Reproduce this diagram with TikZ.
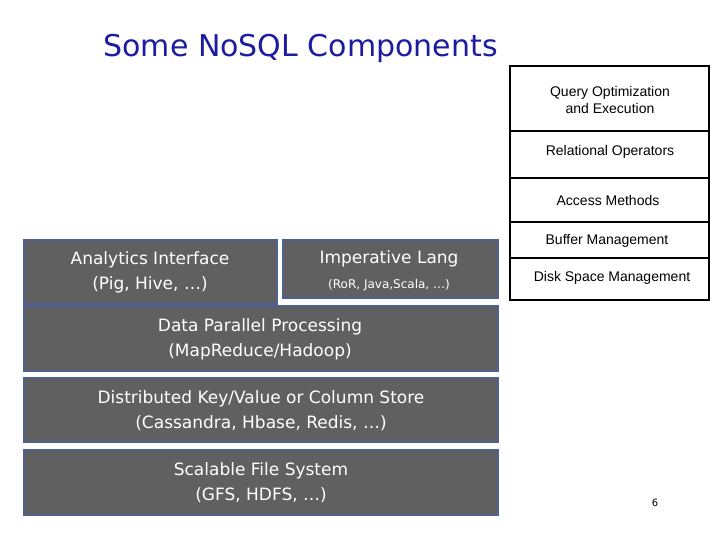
\documentclass[tikz,border=0pt]{standalone}
\usepackage{fontspec}
\setmainfont{DejaVu Sans}
\newfontfamily\arialf{Liberation Sans}
\definecolor{boxgray}{HTML}{606060}
\definecolor{boxedge}{HTML}{4F5F8F}
\definecolor{titleblue}{HTML}{1C1CA0}
\begin{document}
\begin{tikzpicture}[x=1pt,y=-1pt,
  gbox/.style={draw=boxedge,line width=1.5pt,fill=boxgray,text=white,align=center,inner sep=0pt},
  stk/.style={font=\arialf\fontsize{14}{17}\selectfont,align=center,inner sep=0pt}]
\useasboundingbox (0,0) rectangle (720,540);
\node[text=titleblue,font=\fontsize{30}{34}\selectfont,anchor=west] (title) at (100,48) {Some NoSQL Components};
% right stack
\draw[line width=2pt] (510,66) rectangle (709,300);
\foreach \yy in {131,178,222,258} \draw[line width=1.5pt] (510,\yy) -- (709,\yy);
\node[stk] (q) at (610,100) {Query Optimization\\and Execution};
\node[stk] (r) at (610,152) {Relational Operators};
\node[stk] (a) at (608,200) {Access Methods};
\node[stk] (b) at (607,241) {Buffer Management};
\node[stk] (d) at (612,278) {Disk Space Management};
% left boxes
\path[gbox] (24,240) rectangle (277,304);
\node[text=white,align=center,font=\fontsize{17}{25}\selectfont] (ai) at (150,272) {Analytics Interface\\(Pig, Hive, …)};
\path[gbox] (283,240) rectangle (498,298);
\node[text=white,font=\fontsize{17}{20}\selectfont] (il) at (389,259) {Imperative Lang};
\node[text=white,font=\fontsize{12}{14}\selectfont] (il2) at (389,285) {(RoR, Java,Scala, …)};
\path[gbox] (24,306) rectangle (498,371);
\node[text=white,align=center,font=\fontsize{17}{25}\selectfont] (dp) at (260,339) {Data Parallel Processing\\(MapReduce/Hadoop)};
\path[gbox] (24,378) rectangle (498,442);
\node[text=white,align=center,font=\fontsize{17}{25}\selectfont] (kv) at (261,411) {Distributed Key/Value or Column Store\\(Cassandra, Hbase, Redis, …)};
\path[gbox] (24,450) rectangle (498,515);
\node[text=white,align=center,font=\fontsize{17}{25}\selectfont] (fs) at (261,483) {Scalable File System\\(GFS, HDFS, …)};
\node[font=\fontsize{10}{12}\selectfont] (pg) at (655,503) {6};
\end{tikzpicture}
\end{document}
